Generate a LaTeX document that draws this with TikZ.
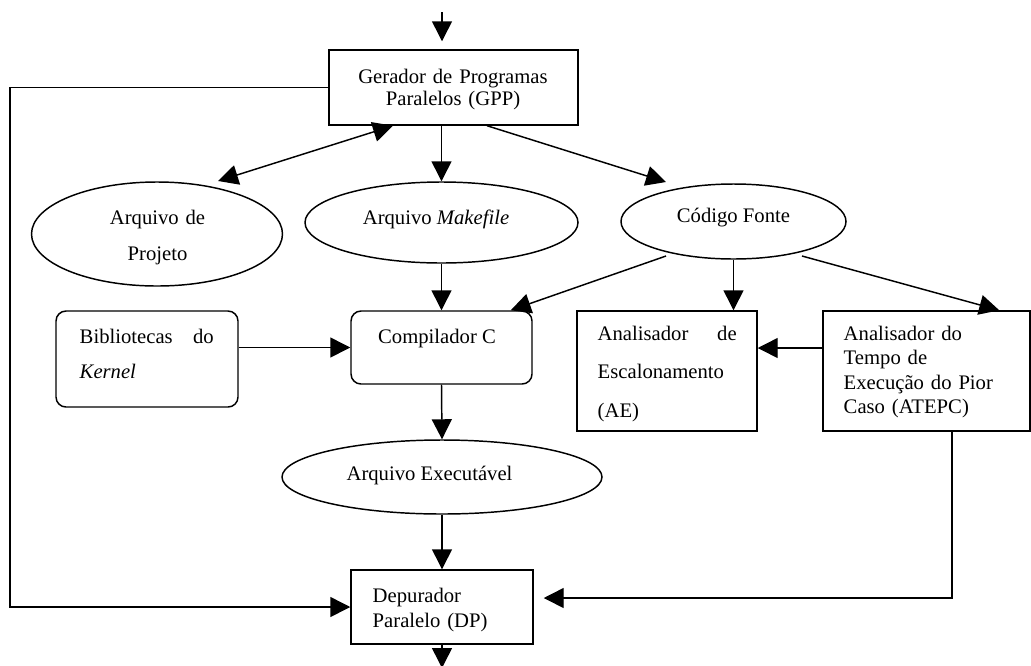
\documentclass[tikz,border=0pt]{standalone}
\usepackage{fontspec}
\setmainfont{Liberation Serif}
\usetikzlibrary{arrows.meta,shapes.geometric,calc}

\begin{document}
\begin{tikzpicture}[x=0.75pt,y=-0.75pt,
  line width=1.1pt,
  tip/.tip={Triangle[length=15pt,width=15pt]},
  arr/.style={-tip},
  dbl/.style={tip-tip},
  box/.style={draw, rectangle, inner sep=0pt},
  rbox/.style={box, rounded corners=7.5pt},
  oval/.style={draw, ellipse, inner sep=0pt},
  txt/.style={inner sep=0pt, font=\fontsize{15.5}{18.4}\selectfont},
]
\fill[white] (0,0) rectangle (1031,665);
\useasboundingbox (0,0) rectangle (1031,665);

% shapes
\node[box,  minimum width=186.75pt, minimum height=56.25pt] (gpp)   at (453.5,87.5) {};
\node[oval, minimum width=188.25pt, minimum height=78pt]    (proj)  at (157,234) {};
\node[oval, minimum width=204.75pt, minimum height=60.75pt] (make)  at (441.5,222.5) {};
\node[oval, minimum width=168.75pt, minimum height=56.25pt] (cod)   at (733.5,221.5) {};
\node[rbox, minimum width=135.75pt, minimum height=54.75pt] (comp)  at (441.5,347.5) {};
\node[rbox, minimum width=136.5pt,  minimum height=72pt]    (bib)   at (147,359) {};
\node[box,  minimum width=135pt,    minimum height=90pt]    (ae)    at (667,371) {};
\node[box,  minimum width=155.25pt, minimum height=90pt]    (atepc) at (926.5,371) {};
\node[oval, minimum width=240pt,    minimum height=55.5pt]  (exe)   at (442,477) {};
\node[box,  minimum width=136.5pt,  minimum height=55.5pt]  (dp)    at (442,607) {};

% labels
\node[txt, anchor=base, text width=170pt, align=center, font=\fontsize{15.5}{16.5}\selectfont] (gppT) at (453,83) {Gerador de Programas\\Paralelos (GPP)};
\node[txt, anchor=base, text width=120pt, align=center, font=\fontsize{15.5}{27}\selectfont] (projT) at (157.5,224) {Arquivo de\\Projeto};
\node[txt, anchor=base] (makeT) at (436,224) {Arquivo \textit{Makefile}};
\node[txt, anchor=base] (codT) at (733.5,222) {Código Fonte};
\node[txt, anchor=base] (compT) at (437,343) {Compilador C};
\node[txt, anchor=base west, text width=100.5pt, align=left, font=\fontsize{15.5}{26.25}\selectfont] (bibT) at (79,343) {Bibliotecas\hfill do\\\textit{Kernel}};
\node[txt, anchor=base west, text width=104.25pt, align=left, font=\fontsize{15.5}{28.9}\selectfont] (aeT) at (597,340) {Analisador\hfill de\\Escalonamento\\(AE)};
\node[txt, anchor=base west, text width=135pt, align=left, font=\fontsize{15.5}{18.4}\selectfont] (atepcT) at (843,340) {Analisador do\\Tempo de\\Execução do Pior\\Caso (ATEPC)};
\node[txt, anchor=base] (exeT) at (429.5,480) {Arquivo Executável};
\node[txt, anchor=base west, text width=120pt, align=left, font=\fontsize{15.5}{18.75}\selectfont] (dpT) at (372,602) {Depurador\\Paralelo (DP)};

% connectors
\coordinate (in) at (442,12);
\draw[arr, shorten >=6pt] (in) -- (in |- gpp.north);

\coordinate (lft) at (10,0);
\draw[arr] (gpp.west) -| (lft |- dp.west) -- (dp.west);

\draw[dbl] ($(proj.center)+(61,-53)$) -- ($(gpp.south)+(-60.5,0)$);
\draw[arr] (gpp.south -| make.north) -- (make.north);
\draw[arr] ($(gpp.south)+(33.5,0)$) -- ($(cod.center)+(-67.5,-39.5)$);

\draw[arr] (make.south) -- (comp.north);
\draw[arr] (bib.east |- comp.west) -- (comp.west);
\draw[arr] ($(cod.center)+(-67.5,34.5)$) -- ($(comp.north east)+(-22,0)$);
\draw[arr] (cod.south) -- (cod.south |- ae.north);
\draw[arr] ($(cod.center)+(68.5,34.5)$) -- ($(atepc.north west)+(177,0)$);

\coordinate (row) at (0,348);
\draw[arr] (atepc.west |- row) -- (ae.east |- row);

\draw[arr] (comp.south) -- (exe.north);
\draw[arr] (exe.south) -- (dp.north);

\coordinate (rc) at (952,598);
\draw[arr, shorten >=7.5pt] (atepc.south -| rc) -- (rc) -- (dp.east |- rc);

\coordinate (out) at (442,668);
\draw[arr] (dp.south) -- (out);
\end{tikzpicture}
\end{document}
